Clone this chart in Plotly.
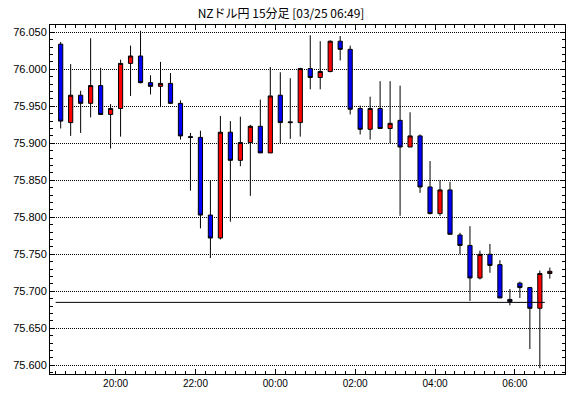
import pandas as pd
import plotly.graph_objects as go

# ---- data (NZD/JPY 15-minute candles) ----
start_time = "2025-03-24 18:30"
n_bars = 50
opens = [76.034, 75.928, 75.965, 75.954, 75.978, 75.939, 75.947, 76.008, 76.018, 75.982,
         75.977, 75.981, 75.954, 75.909, 75.908, 75.803, 75.772, 75.915, 75.877, 75.901,
         75.923, 75.887, 75.965, 75.929, 75.928, 76.001, 75.989, 75.997, 76.038, 76.027,
         75.947, 75.919, 75.947, 75.920, 75.931, 75.895, 75.910, 75.841, 75.805, 75.837,
         75.776, 75.762, 75.718, 75.750, 75.736, 75.689, 75.711, 75.705, 75.677, 75.724]
highs = [76.037, 76.007, 75.971, 76.042, 76.002, 75.953, 76.013, 76.032, 76.052, 75.992,
         76.010, 75.995, 75.958, 75.914, 75.917, 75.850, 75.937, 75.930, 75.936, 75.925,
         75.959, 76.003, 75.996, 75.988, 76.002, 76.046, 76.038, 76.039, 76.045, 76.032,
         75.951, 75.963, 75.984, 75.984, 75.978, 75.942, 75.912, 75.876, 75.850, 75.848,
         75.779, 75.788, 75.755, 75.764, 75.742, 75.703, 75.713, 75.706, 75.728, 75.732]
lows = [75.920, 75.910, 75.914, 75.935, 75.939, 75.893, 75.909, 75.964, 75.981, 75.966,
        75.949, 75.953, 75.905, 75.836, 75.785, 75.745, 75.770, 75.794, 75.869, 75.829,
        75.887, 75.887, 75.900, 75.906, 75.909, 75.973, 75.973, 75.996, 76.012, 75.939,
        75.912, 75.905, 75.920, 75.900, 75.802, 75.895, 75.833, 75.804, 75.802, 75.777,
        75.750, 75.687, 75.716, 75.725, 75.691, 75.681, 75.691, 75.622, 75.596, 75.717]
closes = [75.930, 75.965, 75.954, 75.978, 75.939, 75.947, 76.008, 76.018, 75.982, 75.977,
          75.981, 75.954, 75.910, 75.908, 75.803, 75.772, 75.915, 75.877, 75.901, 75.923,
          75.887, 75.964, 75.928, 75.928, 76.001, 75.989, 75.997, 76.038, 76.027, 75.946,
          75.919, 75.947, 75.920, 75.927, 75.895, 75.910, 75.841, 75.805, 75.837, 75.777,
          75.762, 75.718, 75.750, 75.735, 75.691, 75.686, 75.705, 75.677, 75.724, 75.727]
ref_level = 75.685
y_ticks = [75.600, 75.650, 75.700, 75.750, 75.800, 75.850, 75.900, 75.950, 76.000, 76.050]
title_text = "NZドル円 15分足 [03/25 06:49]"

# candle start times; each candle drawn at the middle of its 15-minute interval
starts = pd.date_range(start_time, periods=n_bars, freq="15min")
x = starts + pd.Timedelta(minutes=7.5)

fig = go.Figure()
fig.add_trace(go.Candlestick(
    x=x, open=opens, high=highs, low=lows, close=closes,
    increasing=dict(fillcolor="#ff0000", line=dict(color="#000000", width=1)),
    decreasing=dict(fillcolor="#0000ff", line=dict(color="#000000", width=1)),
    whiskerwidth=0, showlegend=False, hoverinfo="x+y",
))

# reference horizontal level
fig.add_shape(type="line", xref="x", yref="y",
              x0=starts[0], x1=starts[-1], y0=ref_level, y1=ref_level,
              line=dict(color="#000000", width=1))

font_family = "Liberation Sans, Arial, sans-serif"
fig.update_layout(
    width=570, height=398,
    margin=dict(l=50, r=5, t=25, b=24),
    paper_bgcolor="white", plot_bgcolor="white",
    boxgap=0.4,
    title=dict(text=title_text, x=281/570, xanchor="center", xref="container",
               y=1 - 14/398, yanchor="middle", yref="container",
               font=dict(family="Noto Sans CJK JP", size=12, color="#000000")),
    xaxis=dict(
        type="date",
        range=["2025-03-24 18:21:27", "2025-03-25 07:15:18"],
        rangeslider=dict(visible=False),
        tickformat="%H:%M", dtick=2 * 3600 * 1000, tick0="2025-03-24 20:00",
        ticks="inside", ticklen=5, tickwidth=1, tickcolor="#000000",
        minor=dict(dtick=15 * 60 * 1000, ticks="inside", ticklen=3,
                   tickcolor="#000000", tickwidth=1, showgrid=False),
        showgrid=False, zeroline=False,
        showline=True, linecolor="#000000", linewidth=1, mirror="ticks",
        tickfont=dict(family=font_family, size=10, color="#000000"),
    ),
    yaxis=dict(
        range=[75.5882, 76.0599],
        tickvals=y_ticks, tickformat=".3f",
        ticks="inside", ticklen=4, tickwidth=1, tickcolor="#000000",
        minor=dict(dtick=0.01, tick0=75.6, ticks="inside", ticklen=3,
                   tickcolor="#000000", tickwidth=1, showgrid=False),
        showgrid=True, gridcolor="#000000", gridwidth=1, griddash="1px,1px",
        zeroline=False,
        showline=True, linecolor="#000000", linewidth=1, mirror="ticks",
        tickfont=dict(family=font_family, size=11, color="#000000"),
    ),
)

fig.write_html("out.html")
